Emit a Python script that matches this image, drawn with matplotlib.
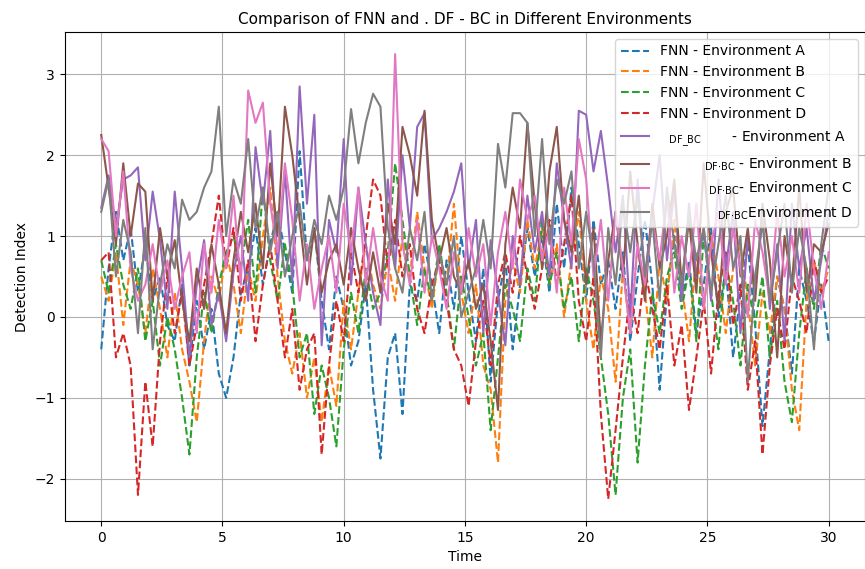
import numpy as np
import matplotlib
matplotlib.use("Agg")
import matplotlib.pyplot as plt

# time axis: 100 samples over 0..30
time = np.linspace(0, 30, 100)
environments = ["A", "B", "C", "D"]

# values (approximate)
fnn_a = [-0.40, 0.60, 1.30, 0.70, 1.10, 0.30, 0.90, 0.20, 0.50, -0.10,
         -0.30, 0.40, -0.60, 0.20, -0.40, 0.10, -0.70, -1.00, -0.50, 0.30,
         0.60, 1.10, 0.40, 0.90, 1.30, 0.80, 0.30, 2.05, 0.70, 1.10,
         0.20, -0.40, 0.50, 0.10, -0.60, -0.30, 0.40, -0.90, -1.75, -0.50,
         -0.20, -1.20, 0.40, 0.20, 0.90, 0.40, -0.20, 0.70, 0.10, 1.00,
         0.30, -0.30, 0.60, -0.80, 0.20, 0.70, -0.40, 0.40, 1.10, 0.50,
         1.00, 0.30, 1.40, 0.60, 1.60, 0.90, 0.20, 1.20, 0.40, 0.70,
         0.10, 0.80, -0.30, 0.50, 1.20, 0.40, -0.90, 0.30, 1.00, 0.20,
         0.70, -0.20, 0.40, 1.10, 0.00, 0.60, -0.50, 0.30, 0.90, -0.10,
         -1.35, -0.40, 0.50, 0.10, -0.70, 0.60, 0.20, -0.30, 0.40, -0.30]
fnn_b = [0.50, 0.20, 0.80, -0.10, 0.70, 0.40, -0.20, 0.60, 0.10, -0.50,
         0.30, -0.40, -0.80, -1.30, -0.30, 0.50, 0.20, 0.80, 0.40, -0.20,
         0.60, 0.20, 1.00, 1.60, 0.50, -0.30, -0.70, -0.20, -1.00, -0.50,
         -1.30, -0.60, -1.10, 0.20, -0.40, 0.30, 0.90, 0.40, 0.10, 0.70,
         0.20, 1.00, 0.50, 1.30, 0.60, 0.10, 0.80, 0.40, 1.40, 0.30,
         -0.20, 0.40, -0.60, -0.90, -1.80, 0.20, 0.70, 0.30, 1.20, 0.60,
         1.10, 0.40, 0.90, 0.00, 0.70, 1.30, 0.20, -0.40, 0.50, 0.10,
         -0.80, 0.60, -0.20, 0.90, 0.30, -0.50, 0.70, 0.20, 1.20, 0.40,
         -0.30, 0.80, 0.10, 1.00, 0.50, -0.20, 0.60, 0.90, 0.20, -0.60,
         0.30, -0.20, 0.50, 0.10, -0.90, -1.40, 0.20, 0.70, 0.30, 0.60]
fnn_c = [0.70, 0.30, 0.90, 0.40, 0.10, 0.60, -0.30, 0.20, -0.60, 0.00,
         -0.40, -1.00, -1.70, -0.50, 0.30, -0.20, 0.40, 0.80, 1.00, 0.60,
         1.20, 0.30, 1.60, 0.70, 0.20, 0.90, 0.40, -0.50, -0.20, -1.20,
         -0.60, -1.00, -1.60, -0.40, 0.30, -0.20, 0.60, 0.10, 0.30, 0.80,
         1.90, 1.20, 0.50, -0.10, 0.60, 0.20, 0.90, 0.30, -0.40, 0.50,
         0.00, -0.60, -0.20, -1.40, -0.50, 0.40, 0.10, -0.30, 0.60, 0.20,
         1.20, 0.40, 0.80, 0.10, 0.50, -0.30, 0.60, 0.20, -0.50, -1.20,
         -2.20, -1.00, -0.40, -1.80, -0.60, 0.30, -0.20, 0.50, 0.80, 0.10,
         0.60, -0.30, 1.00, 0.30, -0.40, 0.70, 0.20, -0.60, 0.40, -0.10,
         0.50, -0.50, 0.20, -0.80, -1.30, -0.20, 0.60, 0.10, 0.90, 0.60]
fnn_d = [0.70, 0.80, -0.50, -0.20, -0.60, -2.20, -0.80, -1.60, -0.30, 0.50,
         -0.20, 0.30, -0.60, -0.10, 0.40, 0.90, 1.50, 0.60, 1.10, 0.20,
         0.70, -0.30, 0.40, 0.90, 0.20, -0.50, 0.10, -0.90, -0.40, -0.20,
         -1.70, -0.60, 0.20, -0.30, 0.80, 0.30, 1.00, 1.70, 1.50, 0.60,
         1.20, 0.50, 0.90, 0.10, -0.20, 0.40, 0.70, 0.20, -0.40, -0.60,
         -1.10, -0.30, 0.20, -0.60, 0.40, 0.80, 0.30, 1.00, 0.50, 0.10,
         0.60, 1.20, 0.40, 0.90, 1.50, 0.20, -0.30, 0.50, -1.20, -2.25,
         -1.40, -0.50, 0.30, -0.20, 0.60, 0.10, -0.40, 0.40, -0.60, -0.10,
         -1.15, -0.50, 0.20, -0.70, 0.30, 0.80, -0.10, 0.40, -0.90, -0.30,
         -1.70, -0.60, 0.10, -0.40, 0.50, 0.20, -0.20, 0.70, 0.30, 0.50]

dfbc_a = [1.35, 1.75, 1.10, 1.70, 1.75, 1.85, 0.70, 1.55, 0.95, 0.10,
          1.55, 0.60, -0.50, 0.40, 0.95, -0.10, 0.30, -0.30, 0.55, 1.00,
          0.20, 2.10, 1.40, 2.30, 0.60, 1.80, 0.45, 2.85, 1.40, 2.50,
          -0.35, 1.20, 0.80, 2.20, 0.40, 1.60, 0.90, 0.30, -0.10, 1.70,
          0.60, 2.00, 1.10, 2.35, 2.52, 0.95, 1.10, 1.30, 1.55, 1.90,
          0.60, 1.20, -0.20, 0.95, 0.30, -0.35, 1.00, 0.40, 1.50, 0.80,
          1.30, 0.50, 1.90, 1.20, 0.60, 2.55, 2.50, 1.80, 2.30, 1.60,
          0.80, 1.50, 0.00, 1.70, 0.50, 1.30, 2.00, 0.70, 1.60, 0.20,
          1.40, 0.50, 1.10, 0.20, 1.70, 0.60, 1.30, -0.20, 1.00, 0.40,
          1.20, 0.10, 0.90, -0.30, 1.40, 0.60, 1.10, 0.20, 0.70, 1.30]
dfbc_b = [2.25, 1.60, 0.90, 1.90, 1.00, 1.65, 1.55, 0.20, 1.10, 0.50,
          0.95, 0.20, -0.30, 0.60, 0.10, 0.90, 0.40, -0.20, 0.70, 1.30,
          0.80, 1.40, 0.60, 1.90, 1.00, 2.60, 2.00, 1.20, 0.40, 1.10,
          0.30, 0.70, 0.90, 0.40, 1.10, 0.60, 0.20, 0.80, 0.30, 1.40,
          0.90, 2.35, 2.00, 1.50, 2.55, 1.20, 0.70, 1.10, 0.50, 0.30,
          0.70, 0.10, 0.40, -0.30, -1.15, 0.90, 1.60, 1.10, 2.40, 1.40,
          0.60, 1.80, 2.35, 1.20, 0.80, 1.50, 0.40, 1.10, -0.30, 0.70,
          1.30, 0.50, 1.80, 0.90, 0.20, 1.40, 0.60, 1.00, 1.70, 0.40,
          1.20, 0.30, 1.90, 0.80, 0.10, 1.30, 1.60, 0.50, 1.10, 0.20,
          1.40, 0.70, -0.50, 1.00, 0.40, 1.60, 0.30, 0.90, 0.80, 1.15]
dfbc_c = [2.20, 2.05, 1.00, 1.80, 0.60, 0.20, 0.40, 0.90, 0.30, 0.70,
          0.10, 0.50, 0.80, -0.20, 0.90, 0.30, 1.20, 0.60, 1.50, 0.40,
          2.80, 2.40, 2.65, 1.40, 0.80, 1.90, 1.20, 0.20, 0.90, 0.10,
          0.60, 1.00, 0.30, 1.40, 0.80, 1.60, 0.40, 1.10, 0.50, 0.20,
          3.25, 0.90, 0.40, 1.20, 0.30, 1.00, 0.60, 0.10, 0.80, 0.30,
          1.10, 0.50, 0.90, -0.10, 0.80, 1.30, 0.60, 1.70, 1.20, 1.50,
          0.70, 1.10, 0.30, 1.60, 0.90, 2.20, 1.70, 0.50, 1.20, 0.20,
          1.30, 0.60, -0.20, 0.90, 0.40, 1.20, 0.70, 1.50, 0.30, 1.00,
          0.50, 1.40, 0.10, 0.90, 1.30, 0.40, 1.10, 0.60, 0.00, 1.20,
          0.80, 0.20, 1.30, 0.50, 1.00, 0.30, 1.40, 0.60, 0.10, 0.80]
dfbc_d = [1.30, 1.70, 0.50, 1.20, 0.80, -0.20, 1.10, -0.40, 0.40, 0.90,
          0.60, 1.45, 1.20, 1.30, 1.60, 1.80, 2.60, 1.00, 1.70, 1.40,
          2.20, 1.10, 1.60, 0.80, 1.30, 0.50, 1.00, 1.40, 0.70, 1.20,
          0.90, 1.50, 1.20, 1.60, 2.57, 1.90, 2.40, 2.76, 2.60, 1.10,
          0.60, 0.30, 1.10, 0.70, 1.30, 0.20, 0.80, 0.40, 1.00, 0.00,
          0.30, 0.60, 1.20, 0.60, 2.14, 1.60, 2.52, 2.52, 2.40, 1.00,
          2.20, 0.90, 1.70, 1.40, 1.80, 0.60, 1.30, 0.70, -0.50, 1.10,
          0.40, 1.40, 0.80, 1.50, 0.50, 1.20, 0.20, 1.60, 0.90, 0.40,
          1.30, 0.70, 1.10, 0.30, 0.90, 1.50, 0.60, 1.00, -0.80, 0.50,
          1.20, 0.20, 0.80, 1.40, 0.30, 1.10, 0.60, -0.40, 0.90, 1.60]

fnn_series = [fnn_a, fnn_b, fnn_c, fnn_d]
dfbc_series = [dfbc_a, dfbc_b, dfbc_c, dfbc_d]

fig = plt.figure(figsize=(8.65, 5.69), dpi=100)
ax = fig.add_axes([0.075, 0.084, 0.925, 0.86])

for env, vals in zip(environments, fnn_series):
    ax.plot(time, vals, linestyle="--", label=f"FNN - Environment {env}")

# the DF_BC names sit small and low in the original legend
dfbc_labels = [
    r"  $_{\mathrm{DF\_BC}}$" + "       - Environment A",
    r"          $_{\mathrm{DF{\cdot}BC}}$" + " - Environment B",
    r"           $_{\mathrm{DF{\cdot}BC}}$" + "- Environment C",
    r"             $_{\mathrm{DF{\cdot}BC}}$" + "Environment D",
]
for label, vals in zip(dfbc_labels, dfbc_series):
    ax.plot(time, vals, linestyle="-", label=label)

ax.set_title("Comparison of FNN and . DF - BC in Different Environments",
             fontsize=11)
ax.set_xlabel("Time")
ax.set_ylabel("Detection Index")
ax.grid(True)
ax.legend(loc="upper right")

fig.savefig("out.png", dpi=100)
